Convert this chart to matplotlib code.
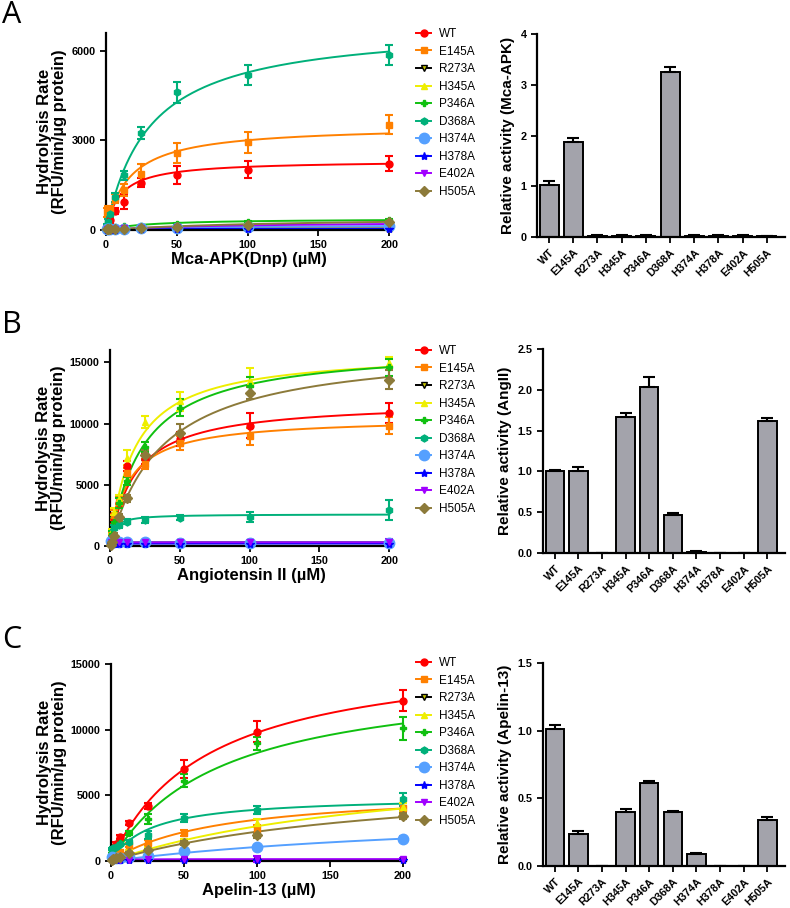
import numpy as np
import matplotlib
matplotlib.use("Agg")
import matplotlib.pyplot as plt

plt.rcParams['font.family'] = ['Liberation Sans', 'DejaVu Sans']

# ---------------- data ----------------
mutants = ["WT", "E145A", "R273A", "H345A", "P346A", "D368A", "H374A", "H378A", "E402A", "H505A"]
conc = [0.78, 1.56, 3.125, 6.25, 12.5, 25, 50, 100, 200]

# Panel A: Mca-APK(Dnp)
A_rate = [
    [80, 150, 320, 640, 940, 1580, 1830, 2020, 2220],
    [600, 650, 700, 1050, 1330, 1870, 2580, 2940, 3520],
    [10, 10, 15, 15, 20, 20, 25, 25, 30],
    [20, 25, 30, 35, 40, 50, 60, 70, 80],
    [30, 50, 80, 100, 120, 140, 210, 280, 330],
    [150, 280, 550, 1100, 1830, 3260, 4610, 5200, 5870],
    [20, 25, 30, 40, 50, 60, 80, 100, 130],
    [10, 10, 15, 15, 20, 20, 30, 40, 50],
    [20, 30, 40, 50, 60, 80, 110, 150, 200],
    [20, 25, 30, 35, 40, 60, 100, 170, 270],
]
A_sd = [
    [40, 60, 80, 100, 250, 150, 300, 280, 250],
    [150, 150, 120, 150, 200, 350, 330, 350, 320],
    [5, 5, 5, 5, 5, 5, 5, 5, 5],
    [10, 10, 10, 10, 10, 10, 10, 10, 10],
    [10, 10, 20, 20, 20, 20, 30, 30, 40],
    [50, 80, 100, 150, 150, 200, 360, 330, 330],
    [10, 10, 10, 10, 10, 10, 20, 20, 20],
    [5, 5, 5, 5, 5, 5, 10, 10, 10],
    [10, 10, 10, 10, 10, 20, 20, 20, 30],
    [10, 10, 10, 10, 10, 20, 20, 30, 40],
]
A_vmax = [2330, 3500, 35, 90, 380, 6890, 170, 60, 280, 450]
A_km = [10.1, 16.4, 20, 40, 30, 30.5, 60, 50, 80, 130]

# Panel B: Angiotensin II
B_rate = [
    [300, 800, 2200, 3500, 6500, 7100, 8730, 9820, 10850],
    [300, 900, 2500, 3600, 6000, 6700, 8400, 8950, 9820],
    [250, 270, 280, 300, 300, 300, 300, 300, 300],
    [400, 1200, 2800, 3800, 7200, 10100, 11800, 13500, 14900],
    [300, 1000, 2000, 3500, 5300, 8100, 11300, 13100, 14600],
    [300, 700, 1500, 1700, 2000, 2100, 2300, 2400, 2950],
    [400, 400, 350, 350, 300, 300, 250, 250, 250],
    [200, 200, 200, 200, 200, 200, 200, 200, 200],
    [300, 300, 300, 300, 300, 300, 300, 300, 350],
    [100, 300, 800, 2350, 3900, 7400, 9200, 12500, 13580],
]
B_sd = [
    [100, 200, 400, 400, 400, 400, 600, 1000, 800],
    [100, 200, 400, 400, 400, 400, 600, 700, 700],
    [50, 50, 50, 50, 50, 50, 50, 50, 50],
    [100, 200, 300, 400, 600, 500, 800, 1000, 500],
    [100, 200, 300, 400, 300, 400, 700, 700, 700],
    [100, 150, 200, 200, 200, 250, 200, 400, 800],
    [100, 100, 100, 100, 100, 100, 100, 100, 100],
    [50, 50, 50, 50, 50, 50, 50, 50, 50],
    [100, 100, 100, 100, 100, 100, 100, 200, 200],
    [100, 200, 300, 300, 300, 400, 800, 500, 800],
]
B_vmax = [11840, 10480, 300, 15900, 16340, 2600, 280, 200, 300, 16400]
B_km = [18.3, 13.4, 1, 17.6, 23.8, 3, 0.5, 0.5, 0.5, 37.7]

# Panel C: Apelin-13
C_rate = [
    [450, 780, 1300, 1800, 2900, 4200, 7000, 9840, 12200],
    [250, 400, 550, 650, 1220, 1370, 2130, 2450, 4000],
    [50, 50, 50, 50, 50, 50, 50, 50, 50],
    [150, 250, 350, 450, 700, 1000, 1500, 2900, 4100],
    [700, 900, 1100, 1400, 2150, 3200, 6100, 8950, 10100],
    [900, 1000, 1050, 1300, 1470, 2000, 3270, 3860, 4700],
    [300, 250, 250, 250, 300, 350, 760, 1070, 1700],
    [50, 50, 50, 50, 50, 50, 50, 60, 60],
    [80, 80, 100, 100, 100, 120, 120, 150, 150],
    [100, 150, 200, 300, 600, 840, 1390, 1950, 3420],
]
C_sd = [
    [100, 120, 150, 150, 150, 250, 700, 800, 800],
    [50, 50, 50, 100, 150, 200, 200, 300, 400],
    [20, 20, 20, 20, 20, 20, 20, 20, 20],
    [50, 50, 50, 50, 100, 100, 150, 300, 300],
    [100, 100, 100, 150, 150, 400, 500, 500, 900],
    [100, 100, 100, 100, 150, 300, 300, 300, 500],
    [50, 50, 50, 50, 50, 50, 100, 150, 200],
    [20, 20, 20, 20, 20, 20, 20, 20, 20],
    [30, 30, 30, 30, 30, 30, 30, 200, 50],
    [50, 50, 50, 50, 100, 100, 150, 200, 200],
]
C_vmax = [16200, 5480, 50, 8160, 14400, 4950, 4150, 60, 150, 6700]
C_km = [65.8, 74, 1, 208, 75, 26.7, 288, 1, 5, 200]

# Relative activity bars
A_rel = [1.03, 1.87, 0.02, 0.02, 0.02, 3.25, 0.02, 0.02, 0.02, 0.01]
A_rel_sd = [0.08, 0.08, 0.01, 0.01, 0.01, 0.10, 0.01, 0.01, 0.01, 0.005]
B_rel = [1.0, 1.0, 0.005, 1.67, 2.03, 0.47, 0.01, 0.003, 0.003, 1.62]
B_rel_sd = [0.02, 0.05, 0.0, 0.04, 0.13, 0.02, 0.01, 0.0, 0.0, 0.03]
C_rel = [1.01, 0.24, 0.003, 0.40, 0.61, 0.40, 0.09, 0.003, 0.002, 0.34]
C_rel_sd = [0.03, 0.02, 0.0, 0.02, 0.02, 0.01, 0.005, 0.0, 0.0, 0.02]

# ---------------- styles ----------------
colors = ["#FF0000", "#FF8000", "#000000", "#EEEE00", "#10C010",
          "#00B07A", "#55A0FF", "#0000FF", "#A000FF", "#8C7A3A"]
markers = ["o", "s", "v", "^", "P", "h", "o", "*", "v", "D"]
msizes = [5, 5, 5, 5, 5, 5, 7.5, 6, 5, 5]
mfaces = [None, None, "#C8C800", None, None, None, None, None, None, None]

W, H = 790, 908
fig = plt.figure(figsize=(W / 100, H / 100), dpi=100)


def px_axes(l, t, r, b):
    return fig.add_axes([l / W, 1 - b / H, (r - l) / W, (b - t) / H])


def style_axes(ax, size=7.8):
    for s in ["top", "right"]:
        ax.spines[s].set_visible(False)
    for s in ["left", "bottom"]:
        ax.spines[s].set_linewidth(1.6)
    ax.tick_params(width=1.3, length=4, direction="out", labelsize=size)
    for lab in ax.get_xticklabels() + ax.get_yticklabels():
        lab.set_fontweight("bold")


def line_panel(box, rates, sds, vmax, km, ylim, yticks, xlabel, legend_y):
    ax = px_axes(*box)
    xs = np.linspace(0, 200, 400)
    handles = []
    for i, m in enumerate(mutants):
        c = colors[i]
        ys = vmax[i] * xs / (km[i] + xs)
        ax.plot(xs, ys, color=c, lw=1.4, zorder=2)
        mfc = mfaces[i] if mfaces[i] else c
        ax.errorbar(conc, rates[i], yerr=sds[i], fmt=markers[i], color=c, mfc=mfc,
                    mec=c, ms=msizes[i], capsize=3, elinewidth=1.5, capthick=1.5,
                    clip_on=False, zorder=3)
        h, = ax.plot([], [], color=c, marker=markers[i], mfc=mfc, mec=c,
                     ms=msizes[i], lw=1.4, label=m)
        handles.append(h)
    ax.set_xlim(0, 202)
    ax.set_ylim(*ylim)
    ax.set_xticks([0, 50, 100, 150, 200])
    ax.set_yticks(yticks)
    style_axes(ax)
    ax.set_xlabel(xlabel, fontsize=12, fontweight="bold", labelpad=1)
    ax.set_ylabel("Hydrolysis Rate\n(RFU/min/µg protein)", fontsize=12,
                  fontweight="bold", labelpad=3, linespacing=1.0)
    ax.legend(handles=handles, loc="upper left",
              bbox_to_anchor=(416 / W, 1 - (legend_y - 6) / H),
              bbox_transform=fig.transFigure, frameon=False, fontsize=8.5,
              handlelength=1.3, handletextpad=0.65, labelspacing=0.47,
              borderaxespad=0, borderpad=0)
    return ax


def bar_panel(box, rel, sd, ylim, yticks, ylabel, fmt):
    ax = px_axes(*box)
    x = np.arange(len(mutants))
    ax.bar(x, rel, width=0.78, color="#A3A3AB", edgecolor="black", linewidth=1.4,
           zorder=2)
    ax.errorbar(x, rel, yerr=[np.zeros(len(sd)), sd], fmt="none", ecolor="black",
                elinewidth=1.5, capsize=4.5, capthick=1.5, zorder=3)
    ax.set_xlim(-0.5, 9.75)
    ax.set_ylim(*ylim)
    ax.set_yticks(yticks)
    ax.set_yticklabels([fmt.format(v) for v in yticks])
    ax.set_xticks(x)
    ax.set_xticklabels(mutants, rotation=45, ha="right", rotation_mode="anchor")
    style_axes(ax)
    ax.tick_params(axis="x", labelsize=7.8)
    ax.set_ylabel(ylabel, fontsize=11, fontweight="bold", labelpad=4)
    return ax


line_panel((106, 33, 392, 230), A_rate, A_sd, A_vmax, A_km, (0, 6600),
           [0, 3000, 6000], "Mca-APK(Dnp) (µM)", 34)
bar_panel((537, 34, 785, 237), A_rel, A_rel_sd, (0, 4), [0, 1, 2, 3, 4],
          "Relative activity (Mca-APK)", "{:.0f}")

line_panel((110, 350, 392, 546), B_rate, B_sd, B_vmax, B_km, (0, 16000),
           [0, 5000, 10000, 15000], "Angiotensin II (µM)", 351)
bar_panel((543, 349, 785, 553), B_rel, B_rel_sd, (0, 2.5),
          [0, 0.5, 1.0, 1.5, 2.0, 2.5], "Relative activity (AngII)", "{:.1f}")

line_panel((111, 664, 406, 861), C_rate, C_sd, C_vmax, C_km, (0, 15000),
           [0, 5000, 10000, 15000], "Apelin-13 (µM)", 663)
bar_panel((543, 663, 785, 866), C_rel, C_rel_sd, (0, 1.5),
          [0, 0.5, 1.0, 1.5], "Relative activity (Apelin-13)", "{:.1f}")

for letter, (lx, ly) in zip("ABC", [(12, 15), (12, 325), (12, 640)]):
    fig.text(lx / W, 1 - ly / H, letter, fontsize=22, family=["Open Sans", "DejaVu Sans"],
             ha="center", va="center")

fig.savefig("out.png", dpi=100)
